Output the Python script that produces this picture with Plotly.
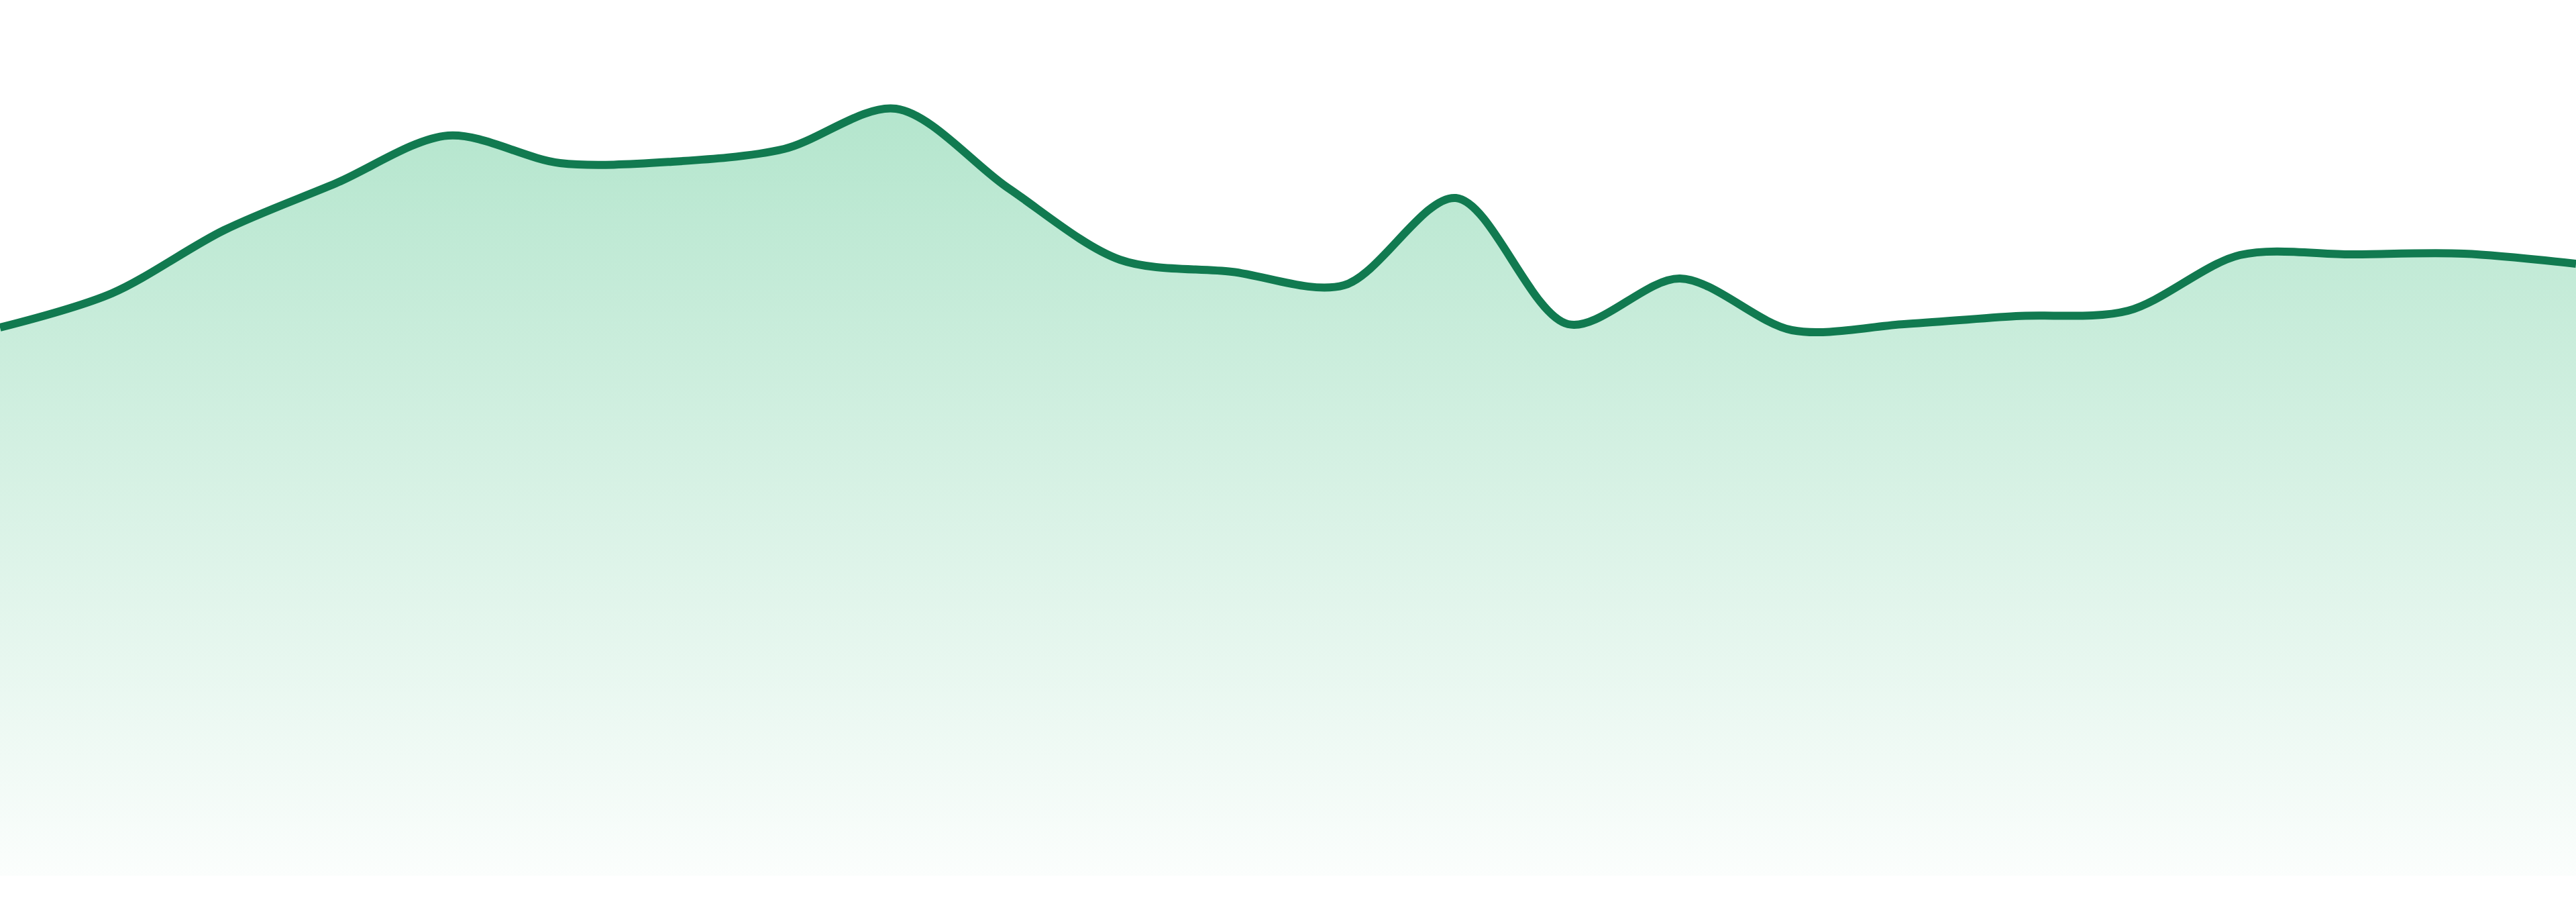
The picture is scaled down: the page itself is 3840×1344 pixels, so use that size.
import plotly.graph_objects as go

# 24 equally spaced samples
idx = list(range(24))
values = [81.7, 86.8, 96.2, 103.2, 110.3, 106.2, 106.4, 108.3, 114.3, 102.5,
          91.8, 90.0, 88.0, 101.0, 82.2, 89.0, 81.3, 82.2, 83.4, 84.2,
          92.5, 92.6, 92.7, 91.2]

line_color = "#117a50"

fig = go.Figure()
fig.add_trace(go.Scatter(
    x=idx, y=values,
    mode="lines",
    line=dict(color=line_color, width=12, shape="spline", smoothing=0.9),
    fill="tozeroy",
    fillgradient=dict(
        type="vertical",
        start=0, stop=max(values),
        colorscale=[[0, "rgba(52,186,120,0.02)"], [1, "rgba(52,186,120,0.37)"]],
    ),
    hoverinfo="skip",
    showlegend=False,
))

fig.update_layout(
    width=3840, height=1344,
    margin=dict(l=0, r=0, t=0, b=39),
    paper_bgcolor="white", plot_bgcolor="white",
    xaxis=dict(range=[0, 23], visible=False, fixedrange=True),
    yaxis=dict(range=[0, 130.5], visible=False, fixedrange=True),
)

# drop the default page margin so the chart sits flush with the window
fig.write_html("out.html", config={"displayModeBar": False},
               post_script="document.body.style.margin='0';")
